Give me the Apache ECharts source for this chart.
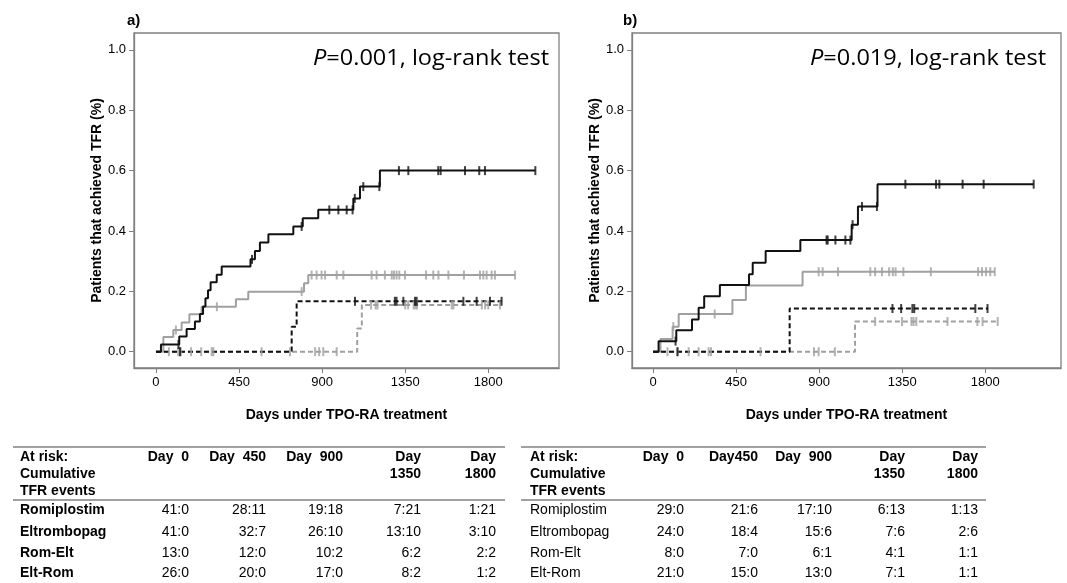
<!DOCTYPE html>
<html>
<head>
<meta charset="utf-8">
<script src="https://cdn.jsdelivr.net/npm/echarts@6/dist/echarts.min.js"></script>
<style>
html, body { margin: 0; padding: 0; background: #fff; }
#main { width: 1067px; height: 583px; }
</style>
</head>
<body>
<div id="main"></div>
<script>
"use strict";
// axis ticks
var dayTicks = [0, 450, 900, 1350, 1800];
var probTicks = [0, 0.2, 0.4, 0.6, 0.8, 1.0];

// a) step curves: [day, cumulative TFR] ; last day of follow-up ; censored days
var romA = [[0, 0], [27, 0.024], [126, 0.050], [166, 0.075], [211, 0.100], [238, 0.125], [255, 0.150],
  [268, 0.177], [282, 0.204], [296, 0.230], [329, 0.255], [356, 0.282], [512, 0.306], [536, 0.334],
  [563, 0.362], [609, 0.389], [744, 0.415], [795, 0.442], [879, 0.470], [1069, 0.508], [1105, 0.547], [1213, 0.600]];
var romAEnd = 2055;
var romACens = [122, 520, 789, 939, 988, 1033, 1065, 1077, 1123, 1210, 1316, 1367, 1529, 1542, 1674, 1751, 1782, 2055];

var eltA = [[0, 0], [40, 0.049], [94, 0.072], [139, 0.097], [181, 0.124], [247, 0.149], [433, 0.174],
  [500, 0.199], [802, 0.227], [825, 0.254]];
var eltAEnd = 1945;
var eltACens = [108, 330, 789, 843, 870, 897, 916, 979, 1015, 1168, 1195, 1240, 1277, 1289, 1303, 1318, 1349,
  1463, 1502, 1530, 1584, 1668, 1755, 1773, 1791, 1818, 1836, 1945];

var romEltA = [[0, 0], [735, 0.083], [762, 0.167]];
var romEltAEnd = 1872;
var romEltACens = [130, 1078, 1294, 1303, 1340, 1403, 1412, 1665, 1737, 1809, 1872];

var eltRomA = [[0, 0], [1090, 0.077], [1115, 0.155]];
var eltRomAEnd = 1863;
var eltRomACens = [70, 120, 135, 190, 245, 302, 311, 572, 726, 862, 884, 906, 979,
  1165, 1190, 1200, 1350, 1366, 1396, 1405, 1414, 1602, 1611, 1765, 1783, 1800, 1863];

// b)
var romB = [[0, 0], [30, 0.035], [126, 0.071], [211, 0.107], [247, 0.146], [277, 0.184], [362, 0.221],
  [520, 0.257], [540, 0.295], [610, 0.334], [798, 0.370], [1076, 0.421], [1110, 0.481], [1216, 0.555]];
var romBEnd = 2062;
var romBCens = [122, 940, 946, 988, 1042, 1069, 1081, 1132, 1213, 1367, 1533, 1551, 1677, 1791, 2062];

var eltB = [[0, 0], [40, 0.042], [106, 0.083], [139, 0.125], [430, 0.171], [503, 0.219], [810, 0.265]];
var eltBEnd = 1851;
var eltBCens = [110, 334, 897, 919, 1002, 1177, 1203, 1240, 1279, 1299, 1314, 1356, 1505, 1761, 1782, 1804, 1827, 1851];

var romEltB = [[0, 0], [740, 0.143]];
var romEltBEnd = 1815;
var romEltBCens = [132, 1297, 1344, 1405, 1415, 1746, 1812];

var eltRomB = [[0, 0], [1094, 0.100]];
var eltRomBEnd = 1867;
var eltRomBCens = [78, 134, 193, 247, 301, 314, 582, 872, 897, 985,
  1203, 1349, 1400, 1411, 1426, 1595, 1757, 1785, 1867];

// at-risk tables
var riskNames = ["Romiplostim", "Eltrombopag", "Rom-Elt", "Elt-Rom"];
var headA = ["Day  0", "Day  450", "Day  900", "Day\n1350", "Day\n1800"];
var headB = ["Day  0", "Day450", "Day  900", "Day\n1350", "Day\n1800"];
var riskA = [["41:0", "28:11", "19:18", "7:21", "1:21"], ["41:0", "32:7", "26:10", "13:10", "3:10"],
  ["13:0", "12:0", "10:2", "6:2", "2:2"], ["26:0", "20:0", "17:0", "8:2", "1:2"]];
var riskB = [["29:0", "21:6", "17:10", "6:13", "1:13"], ["24:0", "18:4", "15:6", "7:6", "2:6"],
  ["8:0", "7:0", "6:1", "4:1", "1:1"], ["21:0", "15:0", "13:0", "7:1", "1:1"]];

var BLACK = "#111", GRAY = "#a0a0a0", AXIS = "#808080";
var SANS = "'Liberation Sans', Arial, sans-serif";

function levelAt(steps, d) {
  var v = 0;
  for (var i = 0; i < steps.length; i++) if (steps[i][0] <= d) v = steps[i][1];
  return v;
}

function curve(idx, steps, end, cens, color, dashed) {
  var data = steps.concat([[end, steps[steps.length - 1][1]]]);
  var line = {
    type: "line", xAxisIndex: idx, yAxisIndex: idx, data: data, step: "end",
    showSymbol: false, silent: true,
    lineStyle: { color: color, width: 2, type: dashed ? [5, 3] : "solid" },
    z: color === BLACK ? 4 : 3
  };
  var marks = {
    type: "scatter", xAxisIndex: idx, yAxisIndex: idx, silent: true,
    data: cens.map(function (d) { return [d, levelAt(steps, d)]; }),
    symbol: "rect", symbolSize: [2, 9],
    itemStyle: { color: color }, z: color === BLACK ? 6 : 5
  };
  return [line, marks];
}

function xAx(idx, min, max) {
  return {
    gridIndex: idx, type: "value", min: min, max: max,
    axisLine: { show: true, onZero: false, lineStyle: { color: AXIS, width: 1.3 } },
    axisTick: { show: true, customValues: dayTicks, length: 5, lineStyle: { color: AXIS } },
    axisLabel: {
      customValues: dayTicks, color: "#000", fontSize: 13, fontFamily: SANS, margin: 8,
      formatter: function (v) { return String(v); }
    },
    splitLine: { show: false },
    name: "Days under TPO-RA treatment", nameLocation: "middle", nameGap: 40,
    nameTextStyle: { color: "#000", fontSize: 14, fontWeight: "bold", fontFamily: SANS }
  };
}

function yAx(idx) {
  return {
    gridIndex: idx, type: "value", min: -0.054, max: 1.056,
    axisLine: { show: true, onZero: false, lineStyle: { color: AXIS, width: 1.3 } },
    axisTick: { show: true, customValues: probTicks, length: 5, lineStyle: { color: AXIS } },
    axisLabel: {
      customValues: probTicks, color: "#000", fontSize: 13, fontFamily: SANS, margin: 8,
      formatter: function (v) { return v.toFixed(1); }
    },
    splitLine: { show: false },
    name: "Patients that achieved TFR (%)", nameLocation: "middle", nameGap: 30, nameRotate: 90,
    nameTextStyle: { color: "#000", fontSize: 14, fontWeight: "bold", fontFamily: SANS }
  };
}

function txt(x, y, s, opt) {
  opt = opt || {};
  return {
    type: "text", x: x, y: y, silent: true, scaleX: opt.scaleX || 1,
    style: {
      text: s, fill: "#000", font: opt.font || ("14px " + SANS),
      align: opt.align || "left", verticalAlign: "middle",
      textAlign: opt.align || "left", textVerticalAlign: "middle",
      lineHeight: 17, rich: opt.rich
    }
  };
}

function table(x0, x1, labelX, colRight, head, rows, boldNames) {
  var g = [];
  g.push({ type: "line", silent: true, shape: { x1: x0, y1: 447, x2: x1, y2: 447 }, style: { stroke: AXIS, lineWidth: 1.5 } });
  g.push({ type: "line", silent: true, shape: { x1: x0, y1: 500, x2: x1, y2: 500 }, style: { stroke: AXIS, lineWidth: 1.5 } });
  g.push(txt(labelX, 474, "At risk:\nCumulative\nTFR events", { font: "bold 14px " + SANS }));
  head.forEach(function (h, j) {
    var yy = h.indexOf("\n") >= 0 ? 465.5 : 457;
    g.push(txt(colRight[j], yy, h, { font: "bold 14px " + SANS, align: "right" }));
  });
  var rowY = [510, 532, 553, 573];
  rows.forEach(function (r, i) {
    g.push(txt(labelX, rowY[i], riskNames[i], { font: (boldNames ? "bold " : "") + "14px " + SANS }));
    r.forEach(function (v, j) {
      g.push(txt(colRight[j], rowY[i], v, { align: "right" }));
    });
  });
  return g;
}

var series = [].concat(
  curve(0, eltRomA, eltRomAEnd, eltRomACens, GRAY, true),
  curve(0, romEltA, romEltAEnd, romEltACens, BLACK, true),
  curve(0, eltA, eltAEnd, eltACens, GRAY, false),
  curve(0, romA, romAEnd, romACens, BLACK, false),
  curve(1, eltRomB, eltRomBEnd, eltRomBCens, GRAY, true),
  curve(1, romEltB, romEltBEnd, romEltBCens, BLACK, true),
  curve(1, eltB, eltBEnd, eltBCens, GRAY, false),
  curve(1, romB, romBEnd, romBCens, BLACK, false)
);

var PFONT = "21px 'Open Sans', sans-serif";
var pRich = { i: { fontStyle: "italic", fontSize: 21, fontFamily: "'Open Sans', sans-serif" } };
var graphics = [
  txt(127, 21, "a)", { font: "bold 15px " + SANS }),
  txt(623, 21, "b)", { font: "bold 15px " + SANS }),
  txt(313, 59, "{i|P}=0.001, log-rank test", { font: PFONT, rich: pRich, scaleX: 1.12 }),
  txt(810, 59, "{i|P}=0.019, log-rank test", { font: PFONT, rich: pRich, scaleX: 1.12 })
].concat(
  table(13, 505, 20, [189, 266, 343, 421, 496], headA, riskA, true),
  table(521, 986, 530, [684, 758, 832, 905, 978], headB, riskB, false)
);

var chart = echarts.init(document.getElementById("main"), null, { renderer: "canvas" });
chart.setOption({
  animation: false,
  backgroundColor: "#fff",
  grid: [
    { left: 134, top: 33, width: 425, height: 335, show: true, borderColor: AXIS, borderWidth: 1.3 },
    { left: 632, top: 33, width: 429, height: 335, show: true, borderColor: AXIS, borderWidth: 1.3 }
  ],
  xAxis: [xAx(0, -119, 2183), xAx(1, -114, 2210)],
  yAxis: [yAx(0), yAx(1)],
  series: series,
  graphic: graphics
});
</script>
</body>
</html>
